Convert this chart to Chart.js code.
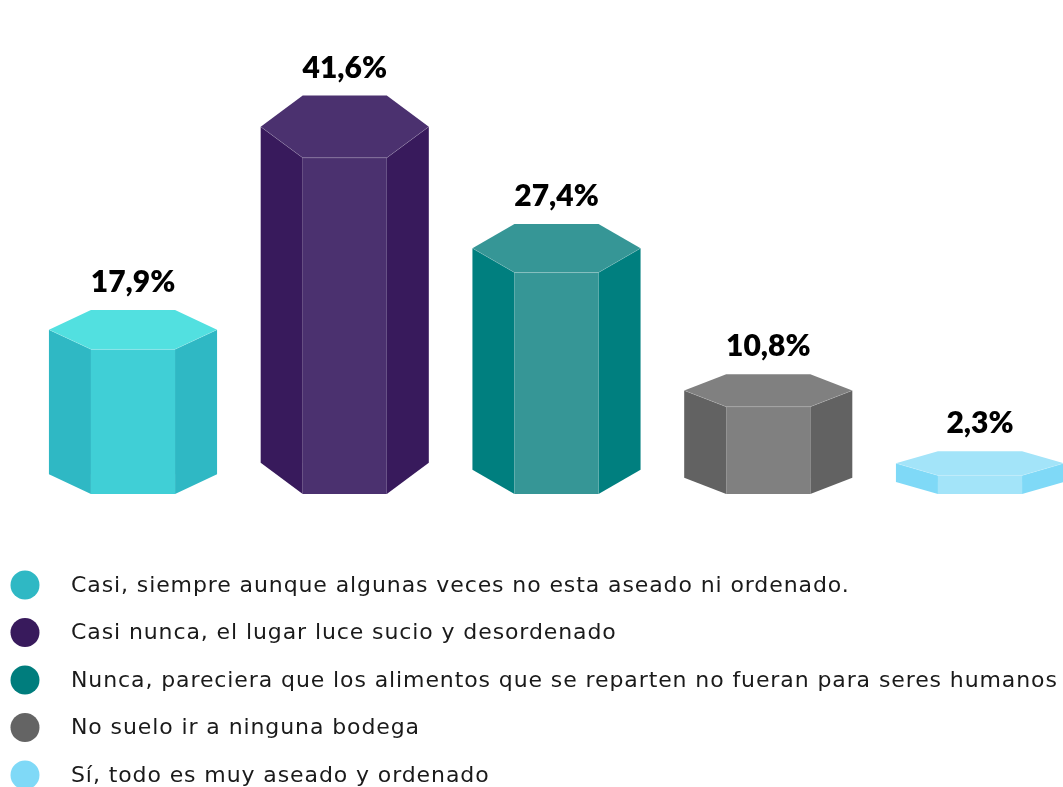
<!DOCTYPE html>
<html><head><meta charset="utf-8">
<script src="https://cdn.jsdelivr.net/npm/chart.js@4.4.1/dist/chart.umd.min.js"></script>
<style>html,body{margin:0;padding:0;background:#fff;overflow:hidden}#wrap{width:1063px;height:787px;position:relative}</style>
</head><body><div id="wrap"><canvas id="c" width="1063" height="787"></canvas></div>
<script>
const categories = [
  'Casi, siempre aunque algunas veces no esta aseado ni ordenado.',
  'Casi nunca, el lugar luce sucio y desordenado',
  'Nunca, pareciera que los alimentos que se reparten no fueran para seres humanos',
  'No suelo ir a ninguna bodega',
  'Sí, todo es muy aseado y ordenado'
];
const values = [17.9, 41.6, 27.4, 10.8, 2.3];
const sideColors = ['#2FB8C4', '#381A5C', '#007F7F', '#626262', '#7FD9F7'];
const frontColors = ['#40CFD6', '#4B316F', '#369696', '#808080', '#A3E4F9'];
const topColors = ['#52E0E0', '#4B316F', '#369696', '#808080', '#A3E4F9'];
const legendColors = ['#2FB8C4', '#381A5C', '#007D7D', '#646464', '#7FD9F7'];

function fmt(v) { return v.toFixed(1).replace('.', ',') + '%'; }

const prismPlugin = {
  id: 'prism',
  afterDatasetsDraw(chart) {
    const ctx = chart.ctx;
    const meta = chart.getDatasetMeta(0);
    meta.data.forEach((bar, i) => {
      const x = bar.x, y = bar.y, base = bar.base, w = bar.width;
      const h = base - y;
      const d = 11 + 0.06 * h;
      const xl = x - w / 2, xr = x + w / 2, fl = x - w / 4, fr = x + w / 4;
      ctx.save();
      ctx.fillStyle = sideColors[i];
      ctx.beginPath();
      ctx.moveTo(xl, y - d); ctx.lineTo(fl, y); ctx.lineTo(fl, base); ctx.lineTo(xl, base - d); ctx.closePath();
      ctx.fill();
      ctx.beginPath();
      ctx.moveTo(xr, y - d); ctx.lineTo(fr, y); ctx.lineTo(fr, base); ctx.lineTo(xr, base - d); ctx.closePath();
      ctx.fill();
      ctx.fillStyle = frontColors[i];
      ctx.fillRect(fl, y, fr - fl, h);
      ctx.fillStyle = topColors[i];
      ctx.beginPath();
      ctx.moveTo(fl, y - 2 * d); ctx.lineTo(fr, y - 2 * d); ctx.lineTo(xr, y - d);
      ctx.lineTo(fr, y); ctx.lineTo(fl, y); ctx.lineTo(xl, y - d); ctx.closePath();
      ctx.fill();
      ctx.strokeStyle = 'rgba(255,255,255,0.15)';
      ctx.lineWidth = 1;
      ctx.beginPath();
      ctx.moveTo(xl, y - d); ctx.lineTo(fl, y); ctx.lineTo(fr, y); ctx.lineTo(xr, y - d);
      ctx.stroke();
      ctx.fillStyle = '#000';
      ctx.font = '800 30px Lato';
      ctx.textAlign = 'center';
      ctx.textBaseline = 'alphabetic';
      ctx.fillText(fmt(values[i]), x, y - 2 * d - 18);
      ctx.restore();
    });
  }
};

const legendPlugin = {
  id: 'customLegend',
  afterDraw(chart) {
    const ctx = chart.ctx;
    ctx.save();
    categories.forEach((label, i) => {
      const cy = 585 + i * 47.5;
      ctx.fillStyle = legendColors[i];
      ctx.beginPath();
      ctx.arc(25, cy, 14.5, 0, Math.PI * 2);
      ctx.fill();
      ctx.fillStyle = '#1a1a1a';
      ctx.font = '22px "DejaVu Sans"';
      if ('letterSpacing' in ctx) ctx.letterSpacing = '0.9px';
      ctx.textAlign = 'left';
      ctx.textBaseline = 'middle';
      ctx.fillText(label, 71, cy + 1);
    });
    ctx.restore();
  }
};

new Chart(document.getElementById('c'), {
  type: 'bar',
  data: {
    labels: categories,
    datasets: [{
      data: values,
      backgroundColor: 'rgba(0,0,0,0)',
      borderWidth: 0,
      categoryPercentage: 0.794,
      barPercentage: 1
    }]
  },
  options: {
    responsive: false,
    animation: false,
    layout: { padding: { left: 133, right: 83, top: 90, bottom: 293 } },
    plugins: { legend: { display: false }, tooltip: { enabled: false } },
    scales: {
      x: { type: 'category', offset: false, display: false, grid: { offset: false } },
      y: { min: 0, max: 50, display: false }
    }
  },
  plugins: [prismPlugin, legendPlugin]
});
</script>
</body></html>
